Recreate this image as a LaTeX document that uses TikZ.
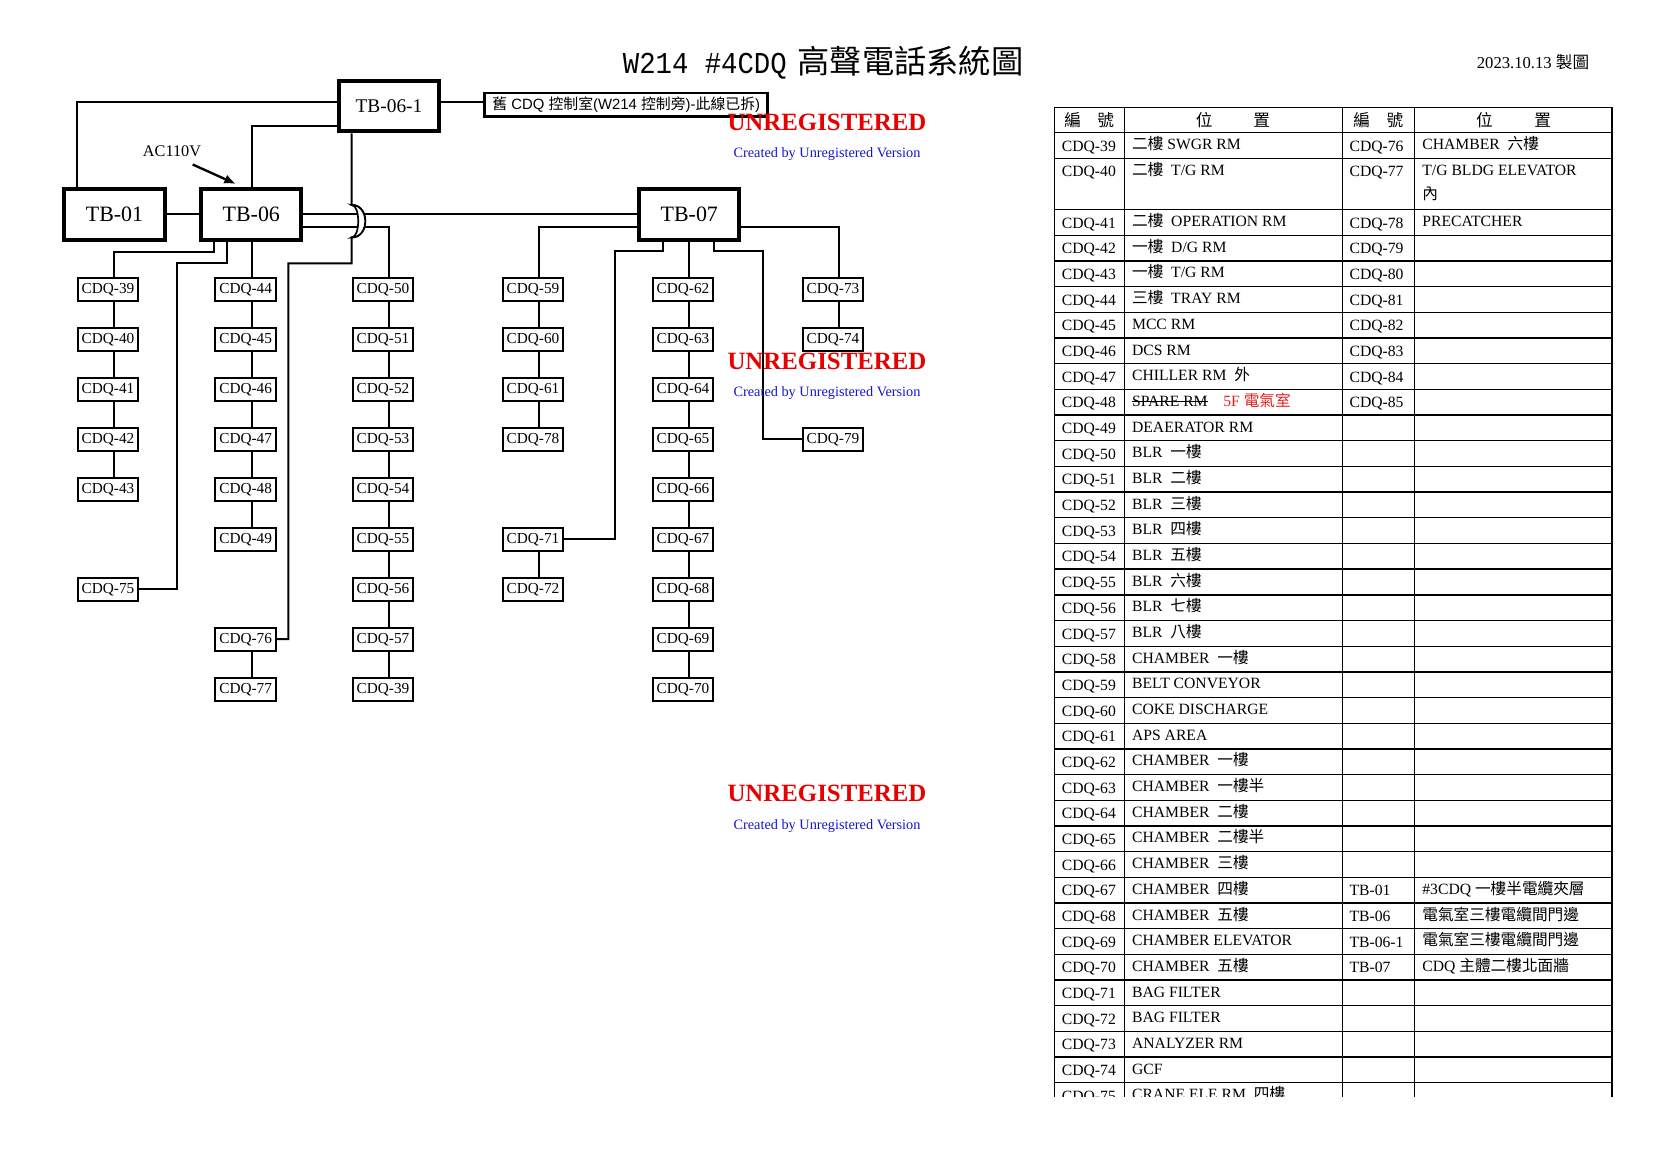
\documentclass[tikz,border=0pt]{standalone}
\usepackage{fontspec}
\setmainfont{Liberation Serif}
\newfontfamily\cjkf{Noto Sans CJK TC}
\newfontfamily\sansf{Liberation Sans}
\newfontfamily\titlelat{Liberation Mono}[FakeStretch=0.9]
\usetikzlibrary{arrows.meta,calc}

\newcommand\zh[1]{{\cjkf #1}}
\newcommand\fsz[1]{\fontsize{#1}{#1}\selectfont}
\newcommand\strk[1]{\setbox0\hbox{#1}\rlap{\rule[2.5pt]{\wd0}{0.45pt}}\box0}
\definecolor{wmred}{RGB}{232,0,0}
\definecolor{wmblue}{RGB}{20,20,210}
\definecolor{tred}{RGB}{230,30,30}

\newcommand\TRowL[3]{%
  \node[tlab] (tl#1) at (1061.5,{132.6+#1*25.68+18.5}) {#2};
  \node[tloc] (tm#1) at (1131.7,{132.6+#1*25.68+17}) {#3};}
\newcommand\TRowR[3]{%
  \node[tlab] (tr#1) at (1349.2,{132.6+#1*25.68+18.5}) {#2};
  \node[tloc] (ts#1) at (1422,{132.6+#1*25.68+17}) {#3};}
\newcommand\TRowRl[2]{%
  \node[tlab] (tr#1) at (1349.2,{132.6+#1*25.68+18.5}) {#2};}
\newcommand\vl[3]{\draw[wire] (#1.south -| #3,0) -- (#2.north -| #3,0);}

\tikzset{
  cdq/.style={draw, line width=0.359mm, minimum width=10.95mm, minimum height=4.13mm, inner sep=0pt, font=\fsz{7.8}},
  tbbox/.style={draw, line width=0.718mm, minimum width=17.96mm, minimum height=8.98mm, inner sep=0pt},
  wire/.style={line width=0.359mm},
  tline/.style={line width=0.25mm},
  tlab/.style={anchor=base west, inner sep=0pt, font=\fsz{8}},
  tloc/.style={anchor=base west, inner sep=0pt, font=\fsz{8}},
  thead/.style={inner sep=0pt, font=\fsz{8.5}\cjkf},
  wmA/.style={anchor=base, inner sep=0pt, text=wmred, font=\bfseries\fsz{12.7}},
  wmB/.style={anchor=base, inner sep=0pt, text=wmblue, font=\fsz{7.3}},
}

\begin{document}
\begin{tikzpicture}[x=0.17957mm, y=-0.17957mm]
\useasboundingbox (0,0) rectangle (1654,1169);

% ---------- title and date ----------
\node[anchor=base west, inner sep=0pt] (title) at (622.5,73.5)
  {{\titlelat\fsz{15.5}W214 \#4CDQ}\hspace{5.5pt}{\cjkf\fsz{16.5}高聲電話系統圖}};
\node[anchor=base west, inner sep=0pt, font=\fsz{8.5}] (date) at (1476.5,68.5)
  {2023.10.13 {\cjkf 製圖}};

% ---------- terminal boxes ----------
\node[tbbox, font=\fsz{11.2}] (tb01) at (114.5,214.5) {TB-01};
\node[tbbox, font=\fsz{11.2}] (tb06) at (251.3,214.5) {TB-06};
\node[tbbox, font=\fsz{11.2}] (tb07) at (689.3,214.5) {TB-07};
\node[tbbox, font=\fsz{9.9}] (tb061) at (389,106.3) {TB-06-1};
\node[draw, line width=0.45mm, minimum width=50.8mm, minimum height=4.22mm, inner sep=0pt,
      font=\sansf\fsz{7.6}] (old) at (626.2,104.7)
  {\zh{舊} CDQ \zh{控制室}(W214 \zh{控制旁})-\zh{此線已拆})};

\node[inner sep=0pt, font=\fsz{8.3}] (ac) at (172,151) {AC110V};

% ---------- CDQ boxes ----------
\node[cdq] (c39) at (108,289.2) {CDQ-39};
\node[cdq] (c40) at (108,339.2) {CDQ-40};
\node[cdq] (c41) at (108,389.2) {CDQ-41};
\node[cdq] (c42) at (108,439.2) {CDQ-42};
\node[cdq] (c43) at (108,489.2) {CDQ-43};
\node[cdq] (c75) at (108,589.2) {CDQ-75};
\node[cdq] (c44) at (245.7,289.2) {CDQ-44};
\node[cdq] (c45) at (245.7,339.2) {CDQ-45};
\node[cdq] (c46) at (245.7,389.2) {CDQ-46};
\node[cdq] (c47) at (245.7,439.2) {CDQ-47};
\node[cdq] (c48) at (245.7,489.2) {CDQ-48};
\node[cdq] (c49) at (245.7,539.2) {CDQ-49};
\node[cdq] (c76) at (245.7,639.2) {CDQ-76};
\node[cdq] (c77) at (245.7,689.2) {CDQ-77};
\node[cdq] (c50) at (383,289.2) {CDQ-50};
\node[cdq] (c51) at (383,339.2) {CDQ-51};
\node[cdq] (c52) at (383,389.2) {CDQ-52};
\node[cdq] (c53) at (383,439.2) {CDQ-53};
\node[cdq] (c54) at (383,489.2) {CDQ-54};
\node[cdq] (c55) at (383,539.2) {CDQ-55};
\node[cdq] (c56) at (383,589.2) {CDQ-56};
\node[cdq] (c57) at (383,639.2) {CDQ-57};
\node[cdq] (c39b) at (383,689.2) {CDQ-39};
\node[cdq] (c59) at (533,289.2) {CDQ-59};
\node[cdq] (c60) at (533,339.2) {CDQ-60};
\node[cdq] (c61) at (533,389.2) {CDQ-61};
\node[cdq] (c78) at (533,439.2) {CDQ-78};
\node[cdq] (c71) at (533,539.2) {CDQ-71};
\node[cdq] (c72) at (533,589.2) {CDQ-72};
\node[cdq] (c62) at (683,289.2) {CDQ-62};
\node[cdq] (c63) at (683,339.2) {CDQ-63};
\node[cdq] (c64) at (683,389.2) {CDQ-64};
\node[cdq] (c65) at (683,439.2) {CDQ-65};
\node[cdq] (c66) at (683,489.2) {CDQ-66};
\node[cdq] (c67) at (683,539.2) {CDQ-67};
\node[cdq] (c68) at (683,589.2) {CDQ-68};
\node[cdq] (c69) at (683,639.2) {CDQ-69};
\node[cdq] (c70) at (683,689.2) {CDQ-70};
\node[cdq] (c73) at (833,289.2) {CDQ-73};
\node[cdq] (c74) at (833,339.2) {CDQ-74};
\node[cdq] (c79) at (833,439.2) {CDQ-79};

% ---------- vertical chains ----------
\vl{c39}{c40}{114} \vl{c40}{c41}{114} \vl{c41}{c42}{114} \vl{c42}{c43}{114}
\vl{c44}{c45}{251.7} \vl{c45}{c46}{251.7} \vl{c46}{c47}{251.7} \vl{c47}{c48}{251.7} \vl{c48}{c49}{251.7}
\vl{c76}{c77}{251.7}
\vl{c50}{c51}{389} \vl{c51}{c52}{389} \vl{c52}{c53}{389} \vl{c53}{c54}{389}
\vl{c54}{c55}{389} \vl{c55}{c56}{389} \vl{c56}{c57}{389} \vl{c57}{c39b}{389}
\vl{c59}{c60}{539} \vl{c60}{c61}{539} \vl{c61}{c78}{539}
\vl{c71}{c72}{539}
\vl{c62}{c63}{689} \vl{c63}{c64}{689} \vl{c64}{c65}{689} \vl{c65}{c66}{689}
\vl{c66}{c67}{689} \vl{c67}{c68}{689} \vl{c68}{c69}{689} \vl{c69}{c70}{689}
\vl{c73}{c74}{839}

% ---------- trunk connectors ----------
\draw[wire] (tb01.east) -- (tb06.west);
\draw[wire] (tb01.north -| 76.7,0) |- (tb061.west |- 0,101.7);
\draw[wire] (tb06.north -| 251.7,0) |- (tb061.west |- 0,126);
\draw[wire] (tb061.east |- 0,101.7) -- (old.west |- 0,101.7);
\draw[wire] (tb06.east) -- (tb07.west);
\draw[wire] (tb06.east |- 0,226.7) -| (c50.north -| 389,0);
\draw[wire] (tb06.south -| 214,0) |- (114,252.3) -- (c39.north -| 114,0);
\draw[wire] (tb06.south -| 226.7,0) |- (176.7,263.3) |- (c75.east);
\draw[wire] (tb06.south -| 251.7,0) -- (c44.north -| 251.7,0);
\draw[wire] (tb061.south -| 351.7,0) -- (351.7,205)
   .. controls (369.7,205) and (369.7,237.4) .. (351.7,237.4)
   -- (351.7,263.3) -| (c76.east -| 288.3,0) -- (c76.east);
\draw[line width=0.3mm, fill=white] (351.7,205)
   .. controls (369.7,205) and (369.7,237.4) .. (351.7,237.4)
   .. controls (360.4,237.4) and (360.4,205) .. (351.7,205) -- cycle;

\draw[wire] (tb07.west |- 0,226.7) -| (c59.north -| 539,0);
\draw[wire] (tb07.south -| 663.3,0) |- (614.7,251) |- (c71.east);
\draw[wire] (tb07.south -| 689,0) -- (c62.north -| 689,0);
\draw[wire] (tb07.south -| 714,0) |- (763.3,251) |- (c79.west);
\draw[wire] (tb07.east |- 0,226.7) -| (c73.north -| 839,0);

\draw[line width=0.42mm, -{Latex[length=2.1mm,width=1.7mm]}]
   ($(ac.south)+(20.7,7.6)$) -- ($(tb06.north -| 236,0)+(0,-3.5)$);

% ---------- table ----------
\begin{scope}
\clip (1045,100) rectangle (1620,1096.5);
\foreach \xx in {1054.3,1124.5,1342.2,1414.3,1612}
  \draw[tline] (\xx,107.3) -- (\xx,1110);
\draw[tline] (1054.3,107.3) -- (1612,107.3);
\foreach \k in {0,1,3,4,...,38}
  \draw[tline] (1054.3,{132.6+\k*25.68}) -- (1612,{132.6+\k*25.68});

\node[thead] (h1) at (1089.2,120) {編\hspace{8.4pt}號};
\node[thead] (h2) at (1233,120) {位\hspace{20.9pt}置};
\node[thead] (h3) at (1378.3,120) {編\hspace{8.6pt}號};
\node[thead] (h4) at (1513.5,120) {位\hspace{21.2pt}置};

\TRowL{0}{CDQ-39}{\zh{二樓} SWGR RM}
\TRowL{1}{CDQ-40}{\zh{二樓}~~T/G RM}
\TRowL{3}{CDQ-41}{\zh{二樓}~~OPERATION RM}
\TRowL{4}{CDQ-42}{\zh{一樓}~~D/G RM}
\TRowL{5}{CDQ-43}{\zh{一樓}~~T/G RM}
\TRowL{6}{CDQ-44}{\zh{三樓}~~TRAY RM}
\TRowL{7}{CDQ-45}{MCC RM}
\TRowL{8}{CDQ-46}{DCS RM}
\TRowL{9}{CDQ-47}{CHILLER RM~~\zh{外}}
\TRowL{10}{CDQ-48}{\strk{SPARE RM}~~~~{\color{tred}5F \zh{電氣室}}}
\TRowL{11}{CDQ-49}{DEAERATOR RM}
\TRowL{12}{CDQ-50}{BLR~~\zh{一樓}}
\TRowL{13}{CDQ-51}{BLR~~\zh{二樓}}
\TRowL{14}{CDQ-52}{BLR~~\zh{三樓}}
\TRowL{15}{CDQ-53}{BLR~~\zh{四樓}}
\TRowL{16}{CDQ-54}{BLR~~\zh{五樓}}
\TRowL{17}{CDQ-55}{BLR~~\zh{六樓}}
\TRowL{18}{CDQ-56}{BLR~~\zh{七樓}}
\TRowL{19}{CDQ-57}{BLR~~\zh{八樓}}
\TRowL{20}{CDQ-58}{CHAMBER~~\zh{一樓}}
\TRowL{21}{CDQ-59}{BELT CONVEYOR}
\TRowL{22}{CDQ-60}{COKE DISCHARGE}
\TRowL{23}{CDQ-61}{APS AREA}
\TRowL{24}{CDQ-62}{CHAMBER~~\zh{一樓}}
\TRowL{25}{CDQ-63}{CHAMBER~~\zh{一樓半}}
\TRowL{26}{CDQ-64}{CHAMBER~~\zh{二樓}}
\TRowL{27}{CDQ-65}{CHAMBER~~\zh{二樓半}}
\TRowL{28}{CDQ-66}{CHAMBER~~\zh{三樓}}
\TRowL{29}{CDQ-67}{CHAMBER~~\zh{四樓}}
\TRowL{30}{CDQ-68}{CHAMBER~~\zh{五樓}}
\TRowL{31}{CDQ-69}{CHAMBER ELEVATOR}
\TRowL{32}{CDQ-70}{CHAMBER~~\zh{五樓}}
\TRowL{33}{CDQ-71}{BAG FILTER}
\TRowL{34}{CDQ-72}{BAG FILTER}
\TRowL{35}{CDQ-73}{ANALYZER RM}
\TRowL{36}{CDQ-74}{GCF}
\TRowL{37}{CDQ-75}{CRANE ELE RM~~\zh{四樓}}

\TRowR{0}{CDQ-76}{CHAMBER~~\zh{六樓}}
\TRowR{1}{CDQ-77}{T/G BLDG ELEVATOR}
\node[tloc] (ts1b) at (1422,{132.6+25.68+17+24}) {\zh{內}};
\TRowR{3}{CDQ-78}{PRECATCHER}
\TRowRl{4}{CDQ-79}
\TRowRl{5}{CDQ-80}
\TRowRl{6}{CDQ-81}
\TRowRl{7}{CDQ-82}
\TRowRl{8}{CDQ-83}
\TRowRl{9}{CDQ-84}
\TRowRl{10}{CDQ-85}
\TRowR{29}{TB-01}{\#3CDQ \zh{一樓半電纜夾層}}
\TRowR{30}{TB-06}{\zh{電氣室三樓電纜間門邊}}
\TRowR{31}{TB-06-1}{\zh{電氣室三樓電纜間門邊}}
\TRowR{32}{TB-07}{CDQ \zh{主體二樓北面牆}}
\end{scope}

% ---------- watermarks ----------
\node[wmA] (u1) at (827,130.7) {UNREGISTERED};
\node[wmB] (v1) at (827,158) {Created by Unregistered Version};
\node[wmA] (u2) at (827,369.3) {UNREGISTERED};
\node[wmB] (v2) at (827,396.6) {Created by Unregistered Version};
\node[wmA] (u3) at (827,801.7) {UNREGISTERED};
\node[wmB] (v3) at (827,829) {Created by Unregistered Version};
\end{tikzpicture}
\end{document}
